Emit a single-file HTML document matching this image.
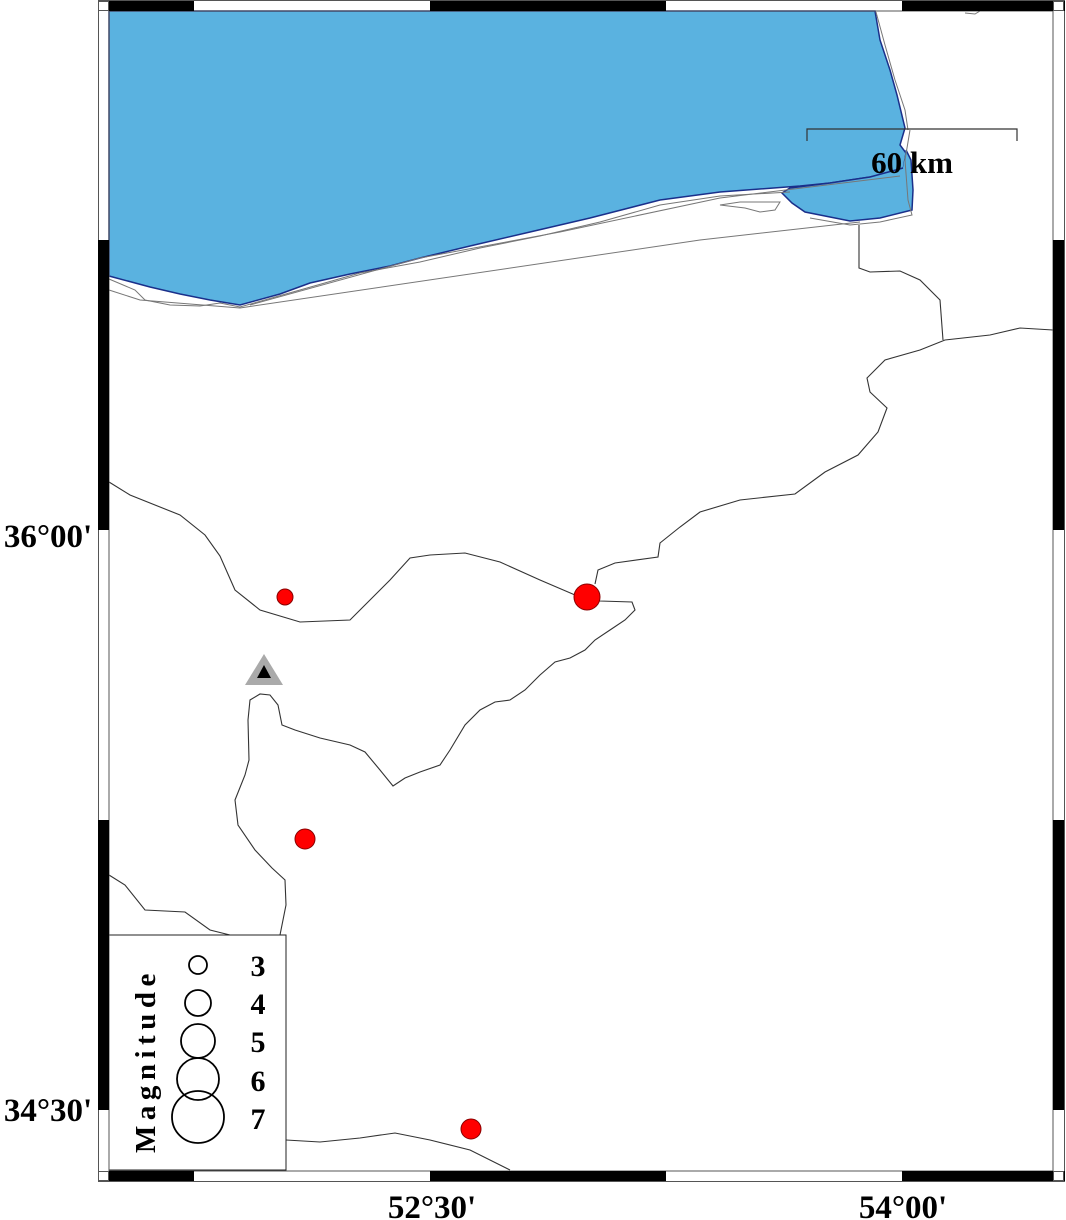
<!DOCTYPE html>
<html><head><meta charset="utf-8"><style>
html,body{margin:0;padding:0;background:#fff;}
svg{display:block;}
</style></head><body>
<svg width="1066" height="1220" viewBox="0 0 1066 1220" xmlns="http://www.w3.org/2000/svg">
<rect x="0" y="0" width="1066" height="1220" fill="#fff"/>
<path d="M109,11 L875,11 L880,40 L890,70 L897,95 L905,128 L900,145 L906,153 L903,170 L870,177 L830,183 L800,186 L720,192 L660,200 L590,218 L530,232 L470,246 L420,258 L390,266 L350,274 L310,283 L280,294 L240,305 L210,300 L180,294 L150,287 L109,276 Z" fill="#5ab2e0" stroke="#1a2f8a" stroke-width="1.5"/>
<path d="M903,168 L870,177 L830,183 L790,188 L782,193 L792,203 L805,212 L850,221 L880,218 L912,210 L913,190 L911,160 L906,150" fill="#5ab2e0" stroke="#1a2f8a" stroke-width="1.5"/>
<g fill="none" stroke="#777" stroke-width="1">
<path d="M109,279 L135,290 L145,300 L170,305 L200,306 L220,303 L240,307 L300,290 L360,273 L420,262 L480,248 L540,236 L600,222 L660,205 L720,196 L790,192"/>
<path d="M250,305 L420,258 L560,232 L720,198 L900,176"/>
<path d="M109,290 L140,300 L240,308 L700,240 L860,222"/>
<path d="M720,205 L740,202 L780,202 L775,210 L760,212 L745,208 Z"/>
<path d="M876,12 L885,45 L895,80 L905,110 L908,130"/>
<path d="M910,130 L905,160 L908,200 L912,215 L880,222 L850,225 L810,218"/>
<path d="M965,13 L975,14 L980,11"/>
</g>
<path d="M807,141 L807,129 L1017,129 L1017,141" fill="none" stroke="#333" stroke-width="1.2"/>
<text x="912" y="173" font-family="Liberation Serif, serif" font-weight="bold" font-size="31" text-anchor="middle">60 km</text>
<g fill="none" stroke="#333" stroke-width="1.1">
<path d="M109,482 L130,495 L180,515 L205,535 L220,556 L235,590 L260,610 L300,622 L350,620 L365,605 L390,580 L410,558 L430,555 L465,553 L500,562 L540,580 L575,595 L600,601 L632,602 L635,610 L625,620 L610,630 L595,640 L585,650 L570,658 L555,662 L540,675 L525,690 L510,700 L495,702 L480,710 L465,725 L450,750 L440,765 L420,772 L405,778 L393,786 L380,770 L365,752 L350,745 L320,738 L295,730 L282,725 L278,705 L270,695 L260,694 L250,700 L248,720 L249,760 L245,775 L235,800 L238,825 L255,850 L272,868 L285,880 L286,905 L280,935"/>
<path d="M595,584 L598,570 L615,563 L658,557 L660,543 L680,527 L700,512 L740,500 L795,494 L825,472 L858,455 L878,432 L887,408 L870,392 L867,378 L885,360 L920,350 L945,340 L990,335 L1020,328 L1053,330"/>
<path d="M859,225 L859,268 L870,272 L900,271 L920,280 L940,300 L943,340"/>
<path d="M109,875 L125,885 L145,910 L185,912 L210,930 L230,935"/>
<path d="M286,1140 L320,1142 L360,1138 L395,1133 L430,1140 L470,1150 L510,1170"/>
</g>
<g fill="#f00" stroke="#800" stroke-width="1">
<circle cx="285" cy="597" r="8"/>
<circle cx="587" cy="597" r="13"/>
<circle cx="305" cy="839" r="10"/>
<circle cx="471" cy="1129" r="10"/>
</g>
<polygon points="264,654 283,685 245,685" fill="#aaa"/>
<polygon points="264,665 271,678 257,678" fill="#000"/>
<rect x="109" y="935" width="177" height="235" fill="#fff" stroke="#222" stroke-width="1"/>
<g fill="none" stroke="#000" stroke-width="1.8">
<circle cx="198" cy="965" r="9"/>
<circle cx="198" cy="1003" r="13"/>
<circle cx="198" cy="1041" r="17"/>
<circle cx="198" cy="1079" r="21"/>
<circle cx="198" cy="1117" r="26"/>
</g>
<g font-family="Liberation Serif, serif" font-weight="bold" font-size="30">
<text x="258" y="976" text-anchor="middle">3</text>
<text x="258" y="1014" text-anchor="middle">4</text>
<text x="258" y="1052" text-anchor="middle">5</text>
<text x="258" y="1091" text-anchor="middle">6</text>
<text x="258" y="1129" text-anchor="middle">7</text>
<text x="0" y="0" transform="translate(155,1153) rotate(-90)" font-size="29" letter-spacing="5.5">Magnitude</text>
</g>
<rect x="98.5" y="0.5" width="966" height="1181" fill="none" stroke="#555" stroke-width="1"/>
<rect x="109" y="11" width="944" height="1160" fill="none" stroke="#555" stroke-width="1"/>
<g fill="#000">
<rect x="98" y="1" width="96" height="10"/><rect x="430" y="1" width="236" height="10"/><rect x="902" y="1" width="163" height="10"/>
<rect x="98" y="1171" width="96" height="10"/><rect x="430" y="1171" width="236" height="10"/><rect x="902" y="1171" width="163" height="10"/>
<rect x="98" y="240" width="11" height="290"/><rect x="98" y="820" width="11" height="290"/>
<rect x="1053" y="240" width="11" height="290"/><rect x="1053" y="820" width="11" height="290"/>
</g>
<g fill="#fff" stroke="#555" stroke-width="1">
<rect x="98.5" y="1.5" width="10" height="9"/><rect x="1053.5" y="1.5" width="10" height="9"/>
<rect x="98.5" y="1171.5" width="10" height="9"/><rect x="1053.5" y="1171.5" width="10" height="9"/>
</g>
<g font-family="Liberation Serif, serif" font-weight="bold" font-size="33">
<text x="48" y="547" text-anchor="middle">36°00'</text>
<text x="48" y="1121" text-anchor="middle">34°30'</text>
<text x="432" y="1218" text-anchor="middle">52°30'</text>
<text x="903" y="1218" text-anchor="middle">54°00'</text>
</g>
</svg>
</body></html>
